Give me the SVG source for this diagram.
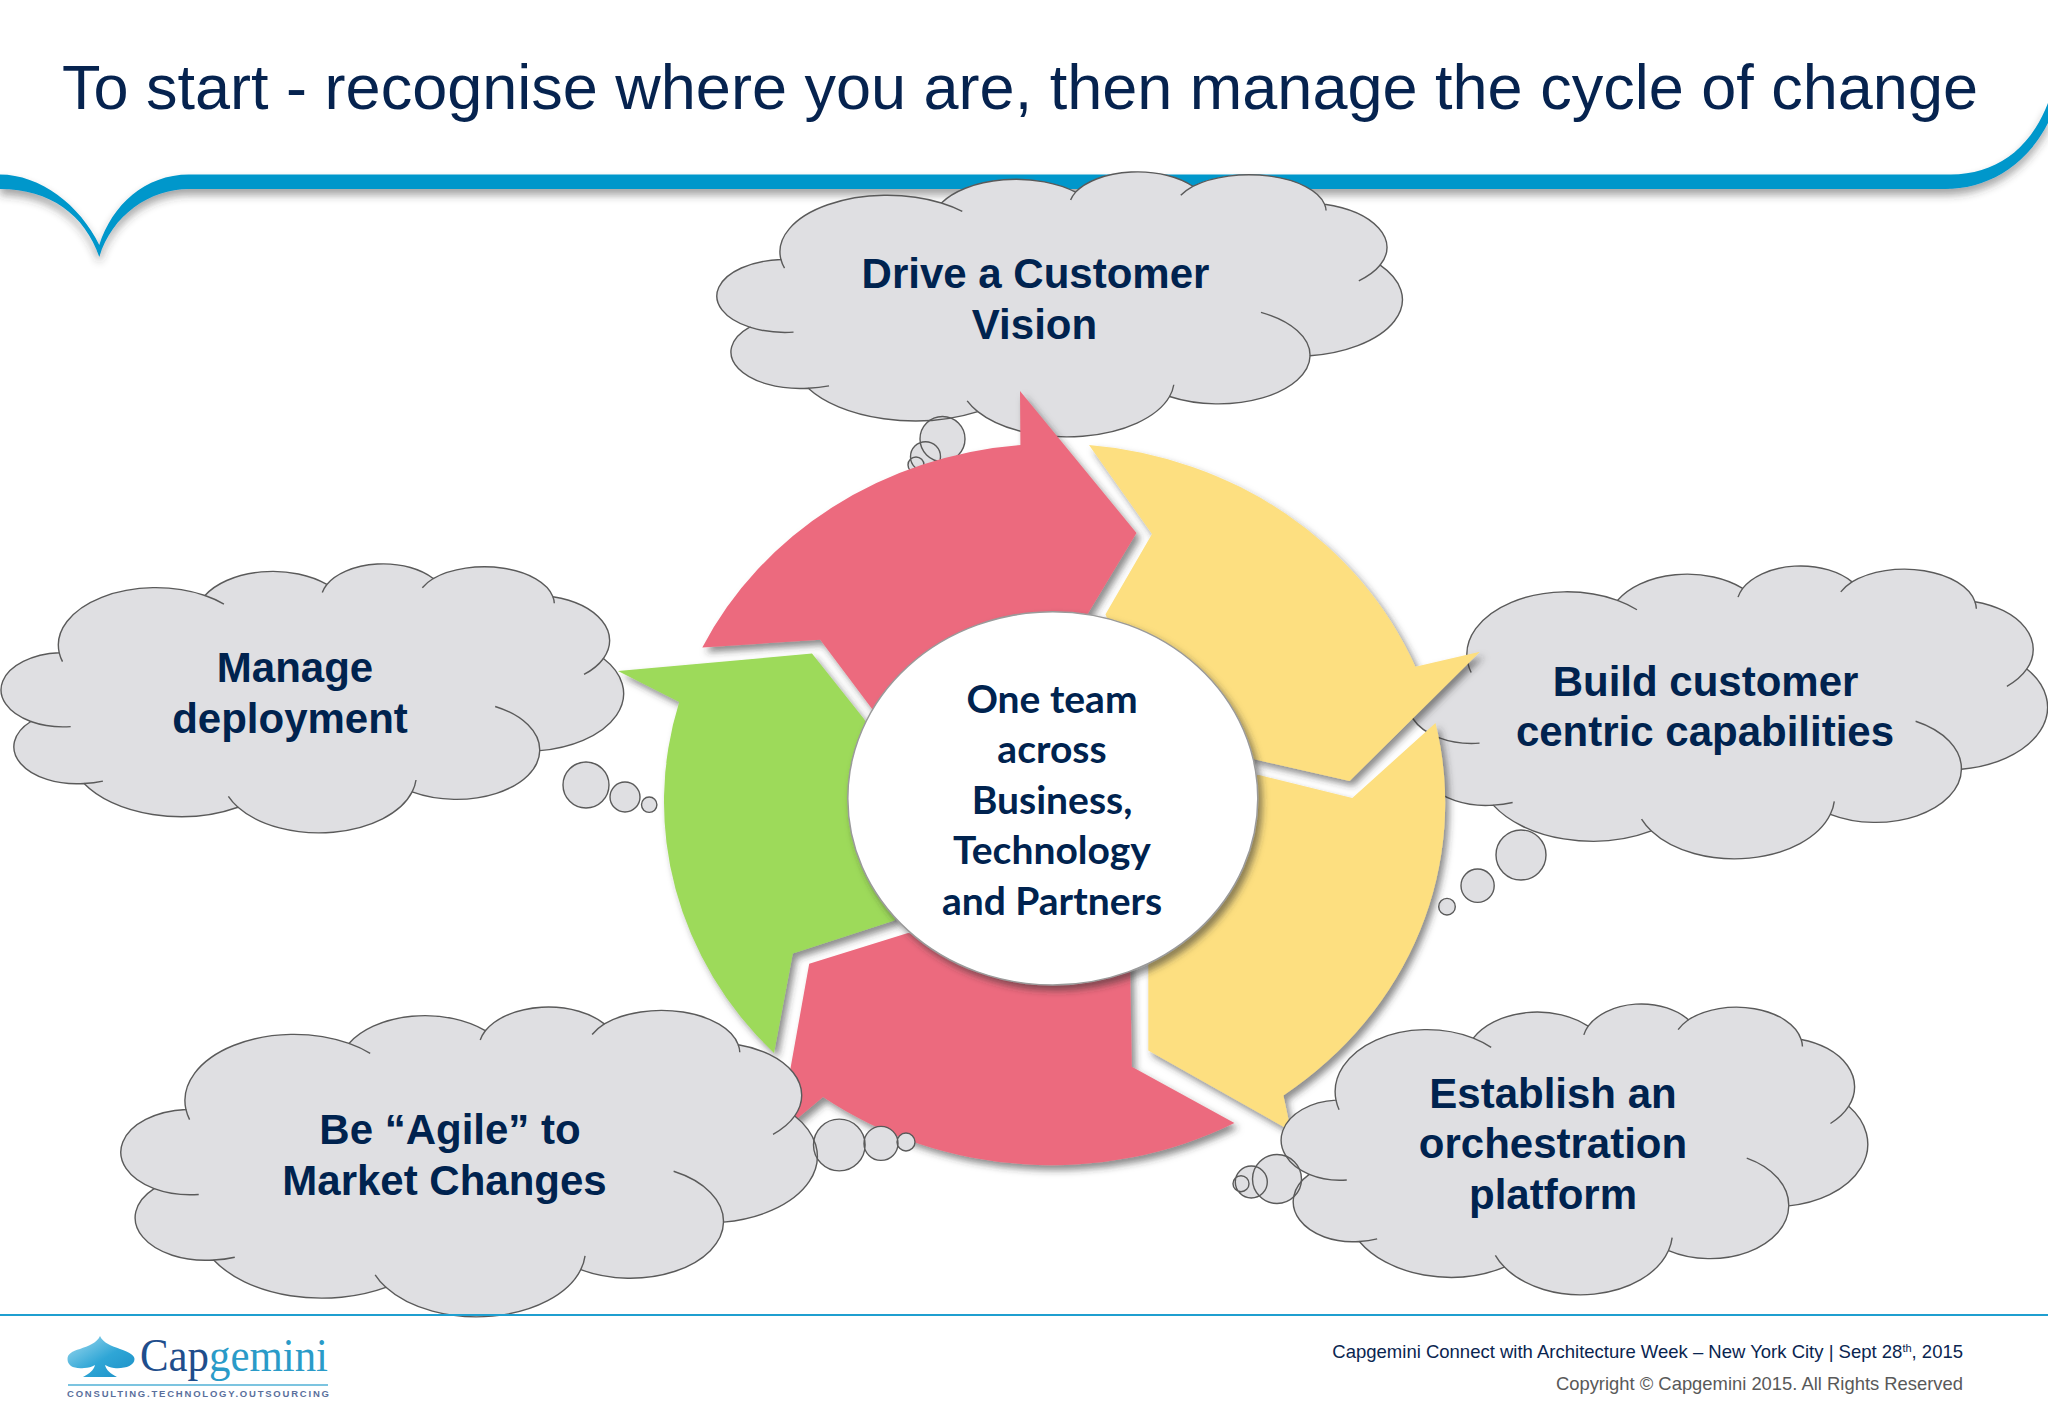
<svg xmlns="http://www.w3.org/2000/svg" width="2048" height="1418" viewBox="0 0 2048 1418">
<style>
.cf{fill:#dfdfe2;stroke:#5a5a5a;stroke-width:1.4;vector-effect:non-scaling-stroke}
.cw{fill:none;stroke:#5a5a5a;stroke-width:1.4;vector-effect:non-scaling-stroke}
.bf{fill:#dfdfe2;stroke:none}
.bs{fill:none;stroke:#5a5a5a;stroke-width:1.4}
.t{font-family:"Liberation Sans",Arial,sans-serif;font-weight:700;font-size:42px;fill:#00234f;text-anchor:middle}
.c{font-family:Lato,"Open Sans",sans-serif;font-weight:700;font-size:39px;fill:#00234f;text-anchor:middle}
.f{font-family:"Liberation Sans",Arial,sans-serif;text-anchor:end}
</style>
<defs>
<filter id="sh" x="-10%" y="-10%" width="125%" height="125%"><feDropShadow dx="4" dy="5" stdDeviation="3.5" flood-color="#333" flood-opacity=".55"/></filter>
<filter id="shb" x="-2%" y="-10%" width="104%" height="130%"><feDropShadow dx="0" dy="6" stdDeviation="4" flood-color="#333" flood-opacity=".45"/></filter>
<linearGradient id="spade" x1="0" y1="0" x2="1" y2="1"><stop offset="0" stop-color="#a5dcf0"/><stop offset=".55" stop-color="#2fa6d6"/><stop offset="1" stop-color="#1b8fc6"/></linearGradient>
<path id="cloud" class="cf" d="M3900,14370 A6753,9190 0 0 1 14005,5202 A5333,7267 0 0 1 22457,3433 A4365,5945 0 0 1 29835,2483 A4857,5945 0 0 1 38135,5391 A5333,7273 0 0 1 41636,15275 A6775,9220 0 0 1 37220,30017 A5785,7867 0 0 1 28372,36627 A6752,9215 0 0 1 16295,39076 A7720,10543 0 0 1 5620,35283 A4360,5918 0 0 1 1929,25361 A4345,5945 0 0 1 3900,14370 Z"/>
<path id="wrinkles" class="cw" d="M4693,26177 A4345,5945 0 0 1 1929,25361 M6928,34899 A4360,5918 0 0 1 5620,35283 M16295,39076 A6752,9215 0 0 1 15629,37339 M28639,34717 A6752,9215 0 0 1 28372,36627 M34129,22954 A5785,7867 0 0 1 37220,30017 M41636,15275 A5333,7273 0 0 1 40290,17829 M38135,5391 A4857,5945 0 0 1 38229,6430 M29078,3952 A4857,5945 0 0 1 29835,2483 M22141,4720 A4365,5945 0 0 1 22457,3433 M14005,5202 A6753,9190 0 0 1 15320,6571 M4127,15789 A6753,9190 0 0 1 3900,14370"/>
<path id="bub-manage" d="M563,785a23,23 0 1 0 46,0a23,23 0 1 0 -46,0ZM610,797a15,15 0 1 0 30,0a15,15 0 1 0 -30,0ZM641.5,804.700a7.700,7.700 0 1 0 15.400,0a7.700,7.700 0 1 0 -15.400,0Z"/>
<path id="bub-drive" d="M920,439a22.500,22.500 0 1 0 45,0a22.500,22.500 0 1 0 -45,0ZM910.500,456.700a15,15 0 1 0 30,0a15,15 0 1 0 -30,0ZM908,465a8,8 0 1 0 16,0a8,8 0 1 0 -16,0Z"/>
<path id="bub-build" d="M1496,855a25,25 0 1 0 50,0a25,25 0 1 0 -50,0ZM1461,885.700a16.600,16.600 0 1 0 33.200,0a16.600,16.600 0 1 0 -33.200,0ZM1438.700,906.700a8.300,8.300 0 1 0 16.600,0a8.300,8.300 0 1 0 -16.600,0Z"/>
<path id="bub-agile" d="M813.500,1145a25.800,25.800 0 1 0 51.600,0a25.800,25.800 0 1 0 -51.600,0ZM864,1143.400a17,17 0 1 0 34,0a17,17 0 1 0 -34,0ZM897,1142a9,9 0 1 0 18,0a9,9 0 1 0 -18,0Z"/>
<path id="bub-est" d="M1252.500,1179a24.500,24.500 0 1 0 49,0a24.500,24.500 0 1 0 -49,0ZM1235.300,1182a16,16 0 1 0 32,0a16,16 0 1 0 -32,0ZM1233,1183.700a8,8 0 1 0 16,0a8,8 0 1 0 -16,0Z"/>
</defs>
<rect width="2048" height="1418" fill="#fff"/>

<g id="header">
<path d="M0,174.500 C40,174.500 80,205 99.300,245 C112,205 145,174.500 189,174.500 H1951 C1995,174.500 2030,150 2048,103 V123 C2025,168 1985,189 1945,189 H189 C150,189 112,215 99.300,257 C85,215 50,189 0,189 Z" fill="#0097cb" filter="url(#shb)"/>
<text x="62" y="109" font-family="Liberation Sans, Arial, sans-serif" font-size="63" fill="#06234f" textLength="1916" lengthAdjust="spacing">To start - recognise where you are, then manage the cycle of change</text>
</g>

<g id="node-manage">
<use href="#bub-manage" class="bf"/>
<use href="#cloud" transform="translate(3,563) scale(.014421,.00625)"/>
<use href="#wrinkles" transform="translate(3,563) scale(.014421,.00625)"/>
<use href="#bub-manage" class="bs"/>
<text class="t" x="295" y="682">Manage</text>
<text class="t" x="290" y="733">deployment</text>
</g>
<g id="node-drive">
<use href="#bub-drive" class="bf"/>
<use href="#cloud" transform="translate(719,171) scale(.01588,.006157)"/>
<use href="#wrinkles" transform="translate(719,171) scale(.01588,.006157)"/>
<use href="#bub-drive" class="bs"/>
<text class="t" x="1035.500" y="288">Drive a Customer</text>
<text class="t" x="1034.500" y="339">Vision</text>
</g>
<g id="node-build">
<use href="#bub-build" class="bf"/>
<use href="#cloud" transform="translate(1410,565) scale(.014815,.006806)"/>
<use href="#wrinkles" transform="translate(1410,565) scale(.014815,.006806)"/>
<use href="#bub-build" class="bs"/>
<text class="t" x="1705.500" y="696">Build customer</text>
<text class="t" x="1705" y="746">centric capabilities</text>
</g>

<g id="connectors" filter="url(#sh)">
<path id="arrow-pink-top" fill="#ec6b7e" d="M702.300,647.400 A390.500,361 0 0 1 1020.400,445 L1020,391 L1136.500,533 L1089,611.700 L1060,660 L900,750 L871.200,707.700 L820.200,639.800 Z"/>
<path id="arrow-yellow-top" fill="#fddf80" d="M1089,445 A390.500,361 0 0 1 1415.400,666.800 L1480,651.700 L1349.600,781.100 L1256.300,759.700 L1150,730 L1105.500,614.300 L1152,534 Z"/>
<path id="arrow-yellow-right" fill="#fddf80" d="M1435.500,723 A390.500,361 0 0 1 1283.400,1095.500 L1291,1131 L1148.300,1050.500 L1148.300,960 L1200,780 L1259,775 L1352.300,798 Z"/>
<path id="arrow-pink-bottom" fill="#ec6b7e" d="M1234.400,1123 A390.500,361 0 0 1 823,1097 L786,1128 L790,1071 L809.200,963.800 L908,933 L1130,960 L1131.800,1066.800 Z"/>
<path id="arrow-green" fill="#9dda5a" d="M774,1053 A390.500,361 0 0 1 679.200,702 L618,671 L812,653.600 L864,718.900 L930,830 L894.300,920.400 L792.800,953.600 Z"/>
</g>

<g id="node-agile">
<use href="#bub-agile" class="bf"/>
<use href="#cloud" transform="translate(123,1006) scale(.016134,.007199)"/>
<use href="#wrinkles" transform="translate(123,1006) scale(.016134,.007199)"/>
<use href="#bub-agile" class="bs"/>
<text class="t" x="450" y="1144">Be “Agile” to</text>
<text class="t" x="444.500" y="1195">Market Changes</text>
</g>
<g id="node-establish">
<use href="#bub-est" class="bf"/>
<use href="#cloud" transform="translate(1283,1003) scale(.013588,.006759)"/>
<use href="#wrinkles" transform="translate(1283,1003) scale(.013588,.006759)"/>
<use href="#bub-est" class="bs"/>
<text class="t" x="1553" y="1108">Establish an</text>
<text class="t" x="1553" y="1158">orchestration</text>
<text class="t" x="1553" y="1209">platform</text>
</g>

<g id="node-center">
<ellipse cx="1052.800" cy="798.400" rx="205" ry="186.600" fill="#fff" stroke="#9a9a9a" stroke-width="1.500" filter="url(#sh)"/>
<text class="c" x="1052" y="712.500">One team</text>
<text class="c" x="1052" y="762.500">across</text>
<text class="c" x="1052" y="813.500">Business,</text>
<text class="c" x="1052" y="863.500">Technology</text>
<text class="c" x="1052" y="914.500">and Partners</text>
</g>

<g id="footer">
<line x1="0" y1="1315" x2="2048" y2="1315" stroke="#1f9fd0" stroke-width="2"/>
<path d="M100,1336 C103,1343 112,1346 120,1349 C130,1352 134.500,1356 134.500,1359 C134.500,1366 124,1369 114,1368 C110,1367.500 107,1366 105,1365 C106,1370 111,1374 117,1377 H83 C89,1374 94,1370 95,1365 C92,1367 88,1368 84,1368 C74,1369 67.500,1366 67.500,1359 C67.500,1354 72,1351 80,1349 C88,1346 97,1343 100,1336 Z" fill="url(#spade)"/>
<text x="140" y="1371" font-family="Liberation Serif, Times New Roman, serif" font-size="47" textLength="188" lengthAdjust="spacingAndGlyphs"><tspan fill="#1f4e8c">Cap</tspan><tspan fill="#2a9bc8">gemini</tspan></text>
<line x1="68" y1="1385" x2="328" y2="1385" stroke="#7cc4e0" stroke-width="2"/>
<text x="67" y="1397" font-family="Liberation Sans, Arial, sans-serif" font-size="9.500" font-weight="700" fill="#5a6f9c" textLength="262" lengthAdjust="spacing">CONSULTING.TECHNOLOGY.OUTSOURCING</text>
<text class="f" x="1963" y="1358" fill="#0a2550" font-size="18.500">Capgemini Connect with Architecture Week – New York City | Sept 28<tspan font-size="11" dy="-6">th</tspan><tspan dy="6">, 2015</tspan></text>
<text class="f" x="1963" y="1390" fill="#595959" font-size="18.400">Copyright © Capgemini 2015. All Rights Reserved</text>
</g>
</svg>
